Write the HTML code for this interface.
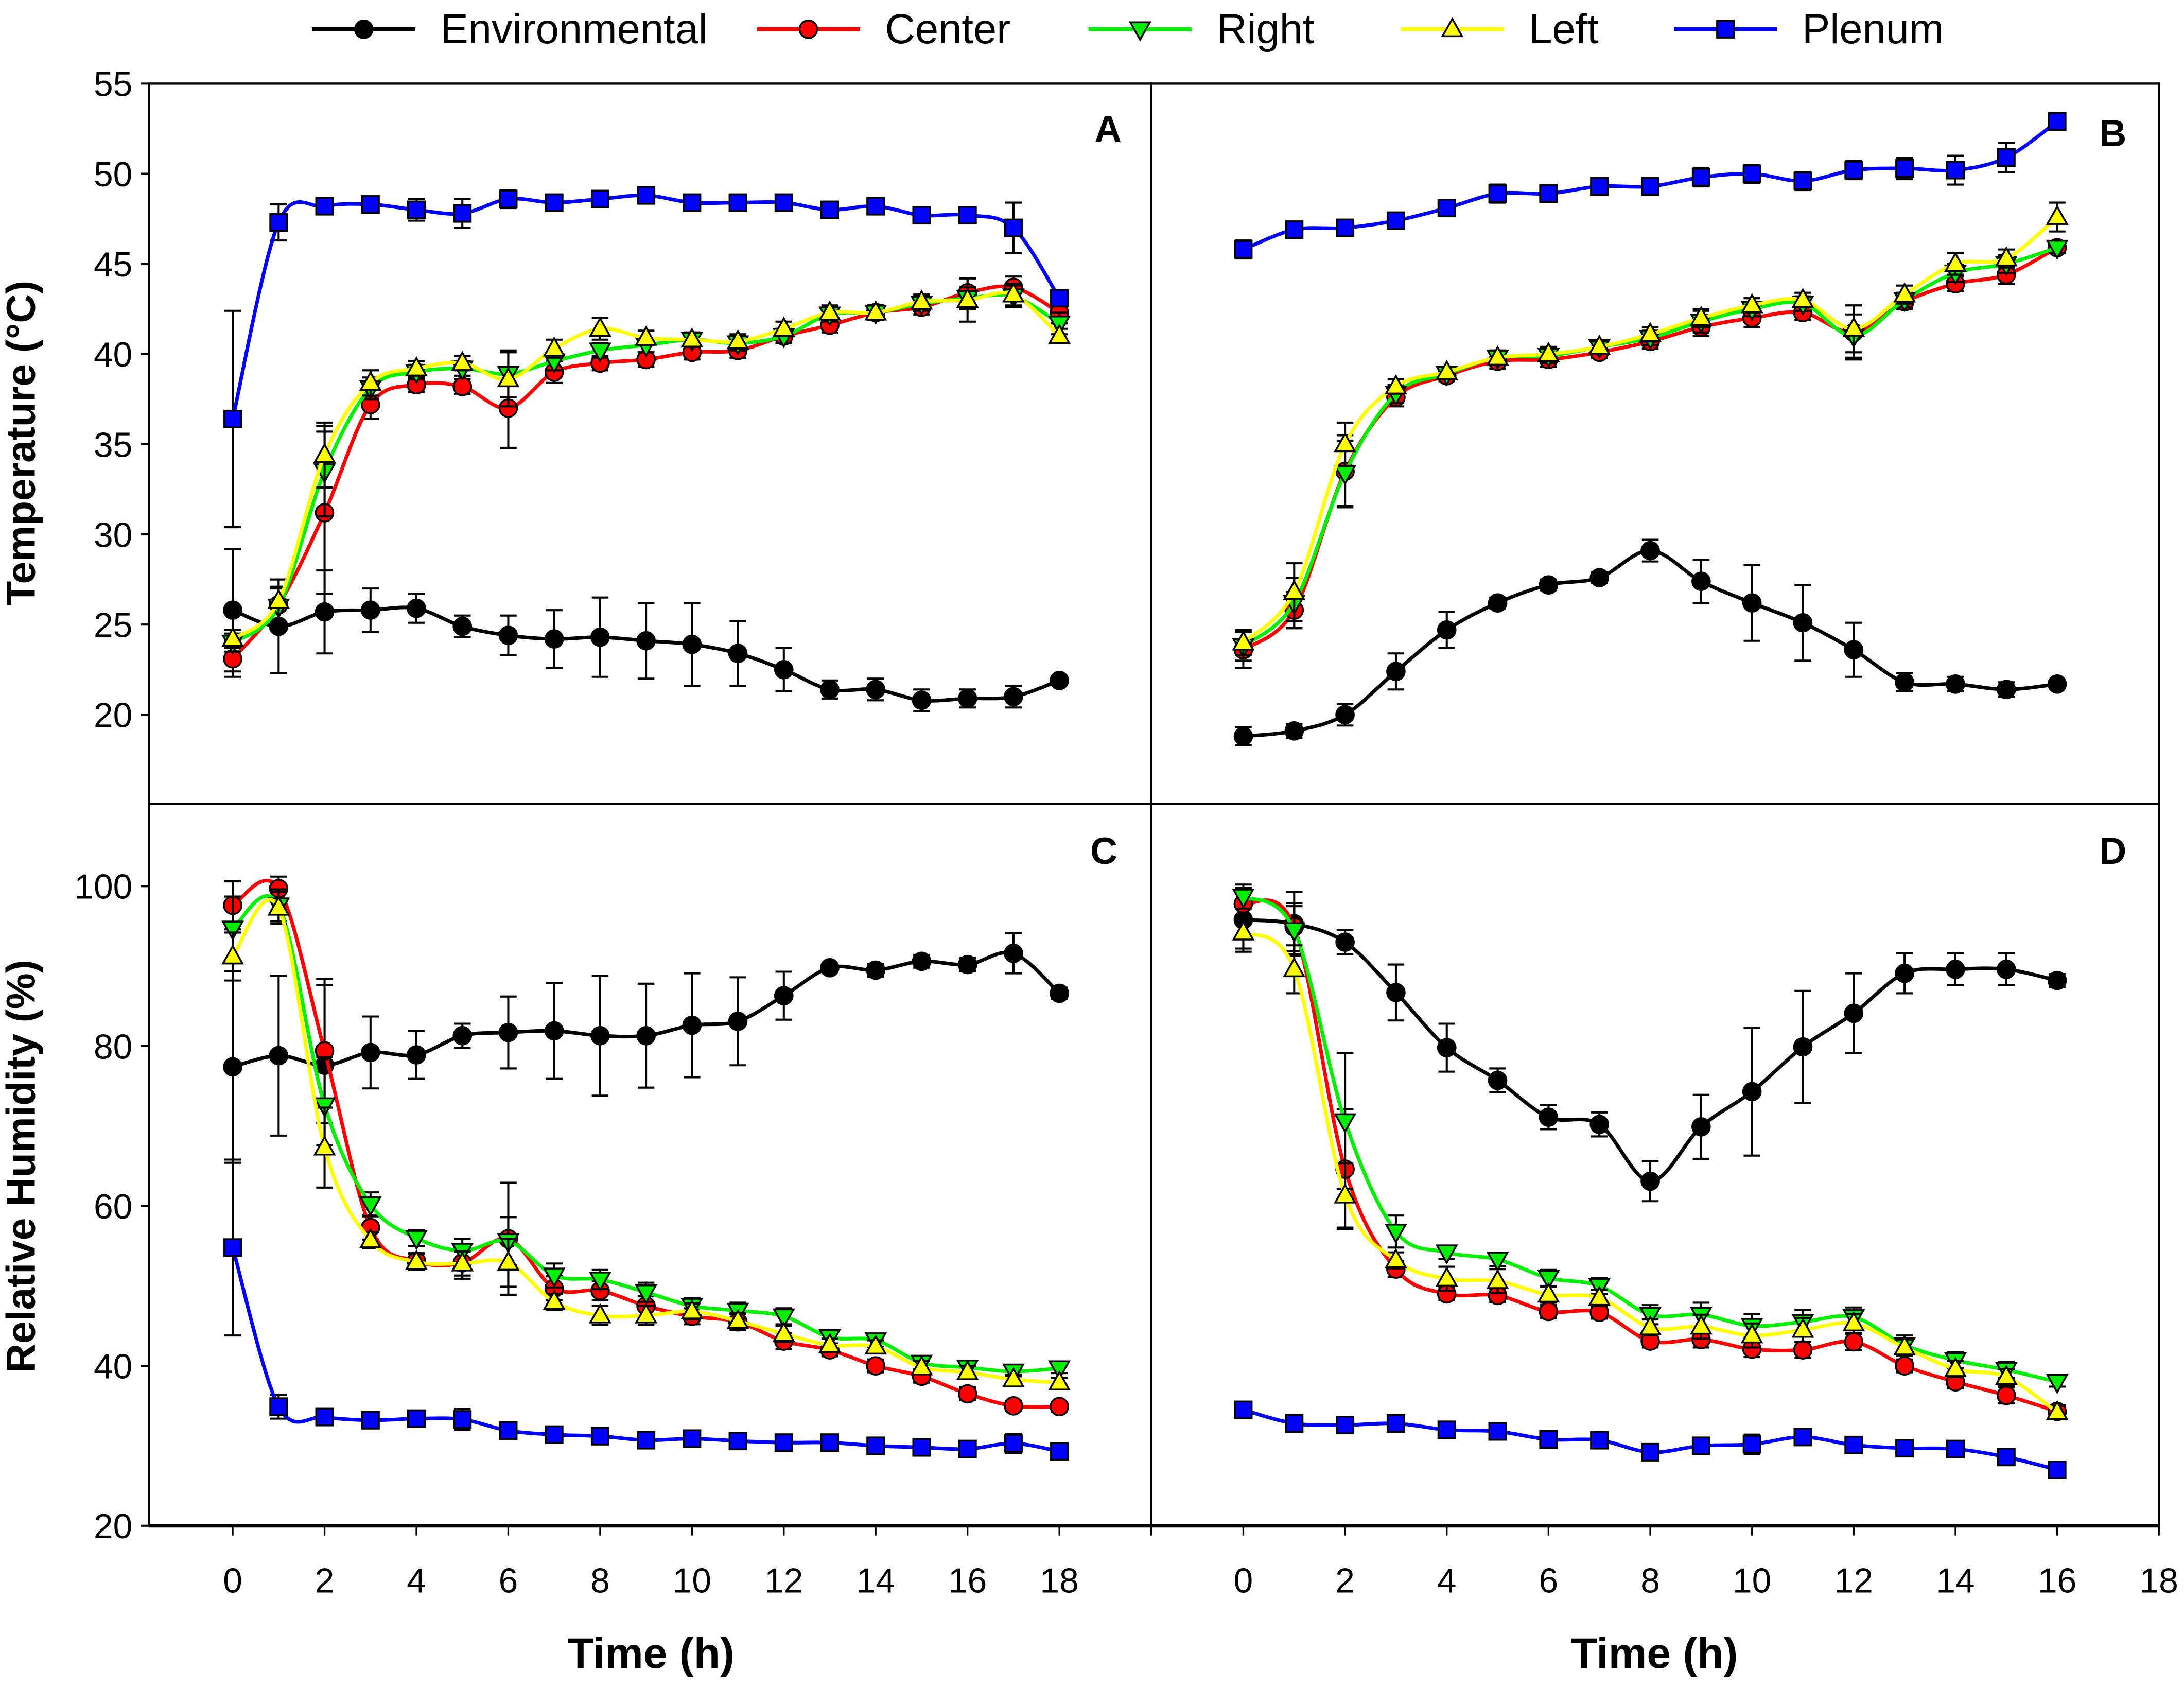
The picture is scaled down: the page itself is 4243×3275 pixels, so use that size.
<!DOCTYPE html>
<html><head><meta charset="utf-8">
<style>
html,body{margin:0;padding:0;background:#fff;}
svg{display:block;}
text{font-family:"Liberation Sans",Arial,sans-serif;}
</style></head>
<body>
<svg id="chart" xmlns="http://www.w3.org/2000/svg" width="4243" height="3275" viewBox="0 0 1567 1210" preserveAspectRatio="none">
<rect x="0" y="0" width="1567" height="1210" fill="#fff"/>
</svg>
<script>
// ---- data ----
const hoursA = [0,1,2,3,4,5,6,7,8,9,10,11,12,13,14,15,16,17,18];
const hoursB = [0,1,2,3,4,5,6,7,8,9,10,11,12,13,14,15,16];
const seriesNames = ["Environmental","Center","Right","Left","Plenum"];

// Panel A temperature
const aEnv = [25.8,24.9,25.7,25.8,25.9,24.9,24.4,24.2,24.3,24.1,23.9,23.4,22.5,21.4,21.4,20.8,20.9,21.0,21.9];
const aEnvErr = [3.4,2.6,2.3,1.2,0.8,0.6,1.1,1.6,2.2,2.1,2.3,1.8,1.2,0.5,0.6,0.6,0.5,0.6,0.2];
const aCenter = [23.1,26.1,31.2,37.2,38.3,38.2,37.0,39.0,39.5,39.7,40.1,40.2,41.0,41.6,42.3,42.6,43.4,43.7,42.3];
const aCenterErr = [1.0,1.0,4.5,0.8,0.4,0.4,2.2,0.6,0.4,0.4,0.4,0.4,0.4,0.4,0.4,0.4,0.8,0.6,0.6];
const aRight = [24.0,26.0,33.5,38.1,39.0,39.2,38.9,39.6,40.2,40.5,40.8,40.6,41.0,42.2,42.3,42.8,43.1,43.2,41.7];
const aRightErr = [0.5,1.0,2.5,0.6,0.4,0.4,1.3,0.5,0.4,0.4,0.4,0.4,0.4,0.4,0.4,0.4,0.6,0.6,0.6];
const aLeft = [24.2,26.3,34.4,38.4,39.2,39.5,38.6,40.3,41.4,40.9,40.8,40.7,41.4,42.3,42.3,42.9,43.0,43.3,41.0];
const aLeftErr = [0.5,1.2,1.8,0.7,0.4,0.4,1.5,0.5,0.6,0.4,0.4,0.4,0.4,0.4,0.4,0.4,1.2,0.6,0.4];
const aPlenum = [36.4,47.3,48.2,48.3,48.0,47.8,48.6,48.4,48.6,48.8,48.4,48.4,48.4,48.0,48.2,47.7,47.7,47.0,43.1];
const aPlenumErr = [6.0,1.0,0.4,0.3,0.6,0.8,0.5,0.3,0.3,0.4,0.4,0.3,0.3,0.3,0.4,0.4,0.4,1.4,0.4];

// Panel B temperature
const bEnv = [18.8,19.1,20.0,22.4,24.7,26.2,27.2,27.6,29.1,27.4,26.2,25.1,23.6,21.8,21.7,21.4,21.7];
const bEnvErr = [0.5,0.4,0.6,1.0,1.0,0.3,0.3,0.3,0.6,1.2,2.1,2.1,1.5,0.5,0.4,0.4,0.2];
const bCenter = [23.6,25.8,33.5,37.6,38.8,39.6,39.7,40.1,40.7,41.5,42.0,42.3,41.2,42.9,43.9,44.4,45.9];
const bCenterErr = [1.0,1.0,2.0,0.5,0.3,0.4,0.4,0.3,0.4,0.5,0.5,0.4,1.5,0.4,0.4,0.5,0.3];
const bRight = [23.8,26.2,33.4,37.8,38.9,39.8,39.9,40.4,40.9,41.8,42.5,42.8,41.0,43.0,44.5,45.0,45.9];
const bRightErr = [0.8,1.4,1.8,0.5,0.3,0.4,0.4,0.3,0.4,0.6,0.4,0.4,1.2,0.4,0.5,0.5,0.3];
const bLeft = [24.0,26.8,35.0,38.2,39.0,39.8,40.0,40.4,41.1,42.0,42.7,43.0,41.4,43.3,45.0,45.3,47.6];
const bLeftErr = [0.7,1.6,1.2,0.4,0.3,0.4,0.4,0.3,0.4,0.5,0.4,0.4,1.3,0.5,0.6,0.5,0.8];
const bPlenum = [45.8,46.9,47.0,47.4,48.1,48.9,48.9,49.3,49.3,49.8,50.0,49.6,50.2,50.3,50.2,50.9,52.9];
const bPlenumErr = [0.5,0.4,0.3,0.3,0.3,0.5,0.3,0.3,0.3,0.5,0.5,0.5,0.5,0.6,0.8,0.8,0.4];

// Panel C relative humidity
const cEnv = [77.4,78.8,77.6,79.2,78.9,81.3,81.7,81.9,81.3,81.3,82.6,83.1,86.3,89.8,89.5,90.6,90.2,91.6,86.6];
const cEnvErr = [12,10,10,4.5,3,1.5,4.5,6,7.5,6.5,6.5,5.5,3,0.5,0.8,0.8,0.8,2.5,0.7];
const cCenter = [97.6,99.7,79.4,57.3,53.1,52.9,55.9,49.7,49.4,47.5,46.2,45.5,43.1,42.0,40.0,38.7,36.5,35.0,34.9];
const cCenterErr = [3.0,1.5,9.0,1.5,1.0,2.0,7.0,1.5,1.2,1.2,1.0,1.0,1.0,0.8,0.8,0.8,0.8,0.6,0.6];
const cRight = [94.7,97.6,72.6,60.2,56.0,54.4,55.6,51.3,50.8,49.2,47.5,46.9,46.2,43.6,43.2,40.4,39.8,39.3,39.7];
const cRightErr = [4.0,2.0,6.0,1.5,1.0,1.5,3.0,1.5,1.2,1.2,1.0,1.0,1.0,0.8,0.8,0.8,0.8,0.6,0.6];
const cLeft = [91.2,97.3,67.3,55.7,53.0,52.8,52.9,48.0,46.3,46.3,46.8,45.6,44.0,42.6,42.4,39.8,39.2,38.3,37.9];
const cLeftErr = [3.0,2.0,5.0,1.0,1.0,1.5,3.0,1.0,1.2,1.2,1.0,1.0,1.0,0.8,0.8,0.8,0.8,0.6,0.6];
const cPlenum = [54.8,34.9,33.6,33.2,33.4,33.3,31.9,31.4,31.2,30.7,30.9,30.6,30.4,30.4,30.0,29.8,29.6,30.3,29.3];
const cPlenumErr = [11,1.5,0.8,0.5,0.5,1.3,0.6,0.5,0.5,0.5,0.5,0.5,0.5,0.5,0.5,0.5,0.5,1.2,0.8];

// Panel D relative humidity
const dEnv = [95.8,95.3,93.0,86.7,79.8,75.7,71.1,70.2,63.1,69.9,74.3,79.9,84.1,89.1,89.6,89.6,88.2];
const dEnvErr = [4,4,1.5,3.5,3,1.5,1.5,1.5,2.5,4,8,7,5,2.5,2,2,0.8];
const dCenter = [97.8,94.9,64.6,52.1,49.0,48.8,46.8,46.7,43.1,43.3,42.1,42.0,43.0,40.0,38.0,36.3,34.3];
const dCenterErr = [2.0,3.0,7.5,1.0,0.8,0.8,0.8,0.8,0.8,1.0,1.0,1.0,1.0,0.8,0.8,1.0,0.8];
const dRight = [98.7,94.5,70.6,56.8,54.2,53.3,51.0,50.0,46.4,46.4,45.0,45.5,46.1,42.6,40.7,39.5,38.0];
const dRightErr = [1.5,3.0,8.5,2.0,0.8,0.8,1.0,1.0,1.2,1.5,1.5,1.5,1.2,1.2,1.0,1.0,0.6];
const dLeft = [94.2,89.6,61.3,53.2,50.9,50.6,48.9,48.5,44.8,44.9,43.8,44.5,45.3,42.3,39.6,38.6,34.2];
const dLeftErr = [2.0,3.0,4.0,1.0,1.5,1.5,1.0,1.0,1.0,1.5,1.5,1.5,1.2,1.0,1.0,1.0,0.8];
const dPlenum = [34.5,32.8,32.6,32.8,32.0,31.8,30.8,30.7,29.2,30.0,30.2,31.1,30.1,29.7,29.6,28.6,27.0];
const dPlenumErr = [1.0,0.5,0.5,0.5,0.5,0.5,0.6,0.5,0.5,1.0,1.2,1.0,0.5,0.5,0.5,0.5,0.5];

const tempTicks = [20,25,30,35,40,45,50,55];
const rhTicks = [20,40,60,80,100];
const timeTicksA = [0,2,4,6,8,10,12,14,16,18];
const timeTicksB = [0,2,4,6,8,10,12,14,16,18];

// ---- layout ----
const NS = "http://www.w3.org/2000/svg";
const svg = document.getElementById('chart');
const colors = ["#000000","#ff0000","#00ee00","#ffff00","#0000ff"];
const markers = ["circle","circle","tdown","tup","square"];

const panels = {
  A:{x0:107,x1:826,y0:60,y1:577,xmin:-1.82,xmax:20,ymin:15.05,ymax:55,xs:hoursA,
     data:[aEnv,aCenter,aRight,aLeft,aPlenum],err:[aEnvErr,aCenterErr,aRightErr,aLeftErr,aPlenumErr],label:"A",lx:795,ly:102},
  B:{x0:826,x1:1549,y0:60,y1:577,xmin:-1.81,xmax:18,ymin:15.05,ymax:55,xs:hoursB,
     data:[bEnv,bCenter,bRight,bLeft,bPlenum],err:[bEnvErr,bCenterErr,bRightErr,bLeftErr,bPlenumErr],label:"B",lx:1516,ly:105},
  C:{x0:107,x1:826,y0:577,y1:1095,xmin:-1.82,xmax:20,ymin:20,ymax:110.28,xs:hoursA,
     data:[cEnv,cCenter,cRight,cLeft,cPlenum],err:[cEnvErr,cCenterErr,cRightErr,cLeftErr,cPlenumErr],label:"C",lx:792,ly:620},
  D:{x0:826,x1:1549,y0:577,y1:1095,xmin:-1.81,xmax:18,ymin:20,ymax:110.28,xs:hoursB,
     data:[dEnv,dCenter,dRight,dLeft,dPlenum],err:[dEnvErr,dCenterErr,dRightErr,dLeftErr,dPlenumErr],label:"D",lx:1516,ly:620}
};
function sx(p,v){return p.x0+(v-p.xmin)/(p.xmax-p.xmin)*(p.x1-p.x0);}
function sy(p,v){return p.y1-(v-p.ymin)/(p.ymax-p.ymin)*(p.y1-p.y0);}

function mk(tag,attrs,parent){
  const e=document.createElementNS(NS,tag);
  for(const k in attrs) e.setAttribute(k,attrs[k]);
  (parent||svg).appendChild(e);
  return e;
}
function smoothPath(pts){
  let d=`M${pts[0][0]},${pts[0][1]}`;
  for(let i=0;i<pts.length-1;i++){
    const p0=pts[i-1]||pts[i],p1=pts[i],p2=pts[i+1],p3=pts[i+2]||p2;
    const c1x=p1[0]+(p2[0]-p0[0])/6,c1y=p1[1]+(p2[1]-p0[1])/6;
    const c2x=p2[0]-(p3[0]-p1[0])/6,c2y=p2[1]-(p3[1]-p1[1])/6;
    d+=` C${c1x},${c1y} ${c2x},${c2y} ${p2[0]},${p2[1]}`;
  }
  return d;
}
function marker(type,x,y,fill,g){
  let e;
  if(type==="circle"){e=mk('circle',{cx:x,cy:y,r:6.3,fill:fill,stroke:'#000','stroke-width':1.3},g);}
  else if(type==="square"){e=mk('rect',{x:x-6,y:y-6,width:12,height:12,fill:fill,stroke:'#000','stroke-width':1.3},g);}
  else if(type==="tup"){e=mk('polygon',{points:`${x},${y-7.5} ${x+7},${y+5} ${x-7},${y+5}`,fill:fill,stroke:'#000','stroke-width':1.3},g);}
  else {e=mk('polygon',{points:`${x},${y+7.5} ${x+7},${y-5} ${x-7},${y-5}`,fill:fill,stroke:'#000','stroke-width':1.3},g);}
  return e;
}

for(const key in panels){
  const p=panels[key];
  const g=mk('g',{});
  
  
  for(let s=0;s<5;s++){
    const vals=p.data[s], errs=p.err[s];
    const sg=mk('g',{},g);
    
    
    const pts=vals.map((v,i)=>[sx(p,p.xs[i]),sy(p,v)]);
    vals.forEach((v,i)=>{
      const x=sx(p,p.xs[i]),yt=sy(p,v+errs[i]),yb=sy(p,v-errs[i]);
      const eb=mk('path',{d:`M${x},${yt}V${yb}M${x-6},${yt}H${x+6}M${x-6},${yb}H${x+6}`,stroke:'#000','stroke-width':1.5,fill:'none'},sg);
      
      
    });
    const line=mk('path',{d:smoothPath(pts),stroke:colors[s],'stroke-width':2.6,fill:'none'},sg);
    
    
    pts.forEach(pt=>{
      const m=marker(markers[s],pt[0],pt[1],colors[s],sg);
      
      
    });
  }
  const fr=mk('rect',{x:p.x0,y:p.y0,width:p.x1-p.x0,height:p.y1-p.y0,fill:'none',stroke:'#000','stroke-width':1.6},g);
  
  
  const lt=mk('text',{x:p.lx,y:p.ly,'font-size':27,'font-weight':'bold','text-anchor':'middle'},g);
  lt.textContent=p.label;
  
  
}
const bax=mk('path',{d:'M107,1095H1549',stroke:'#000','stroke-width':2.6});



function yTicks(p,ticks,name){
  const g=mk('g',{});
  
  
  ticks.forEach(t=>{
    const y=sy(p,t);
    mk('path',{d:`M${p.x0-6},${y}H${p.x0}`,stroke:'#000','stroke-width':1.5},g);
    const tx=mk('text',{x:p.x0-12,y:y+9,'font-size':25,'text-anchor':'end'},g);
    tx.textContent=t;
  });
}
yTicks(panels.A,tempTicks,'y-axis-temperature-ticks');
yTicks(panels.C,rhTicks,'y-axis-humidity-ticks');
function xTicks(p,ticks,name,extra){
  const g=mk('g',{});
  
  
  ticks.forEach(t=>{
    const x=sx(p,t);
    mk('path',{d:`M${x},1095V1102`,stroke:'#000','stroke-width':1.2},g);
    const tx=mk('text',{x:x,y:1143,'font-size':25,'text-anchor':'middle'},g);
    tx.textContent=t;
  });
  if(extra!==undefined){const x=sx(p,extra);mk('path',{d:`M${x},1095V1102`,stroke:'#000','stroke-width':1.2},g);}
}
xTicks(panels.C,timeTicksA,'x-axis-ticks-left',20);
xTicks(panels.D,timeTicksB,'x-axis-ticks-right');

function title(txt,x,y,rot,name,size){
  const t=mk('text',{x:x,y:y,'font-size':size,'font-weight':'bold','text-anchor':'middle',transform:rot?`rotate(-90 ${x} ${y})`:''});
  t.textContent=txt;
  
  
}
title('Time (h)',467,1197,false,'x-axis-title-left',31);
title('Time (h)',1187,1197,false,'x-axis-title-right',31);
title('Temperature (°C)',25,318,true,'y-axis-title-temperature',29);
title('Relative Humidity (%)',25,837,true,'y-axis-title-humidity',29);

const legendX=[224,543,781,1005,1201];
const legendLabels=seriesNames;
const lg=mk('g',{});


for(let s=0;s<5;s++){
  const e=mk('g',{},lg);
  
  
  const x=legendX[s];
  mk('path',{d:`M${x},21H${x+74}`,stroke:colors[s],'stroke-width':2.8},e);
  marker(markers[s],x+37,21,colors[s],e);
  const t=mk('text',{x:x+92,y:31,'font-size':30},e);
  t.textContent=legendLabels[s];
}
</script>
</body></html>
